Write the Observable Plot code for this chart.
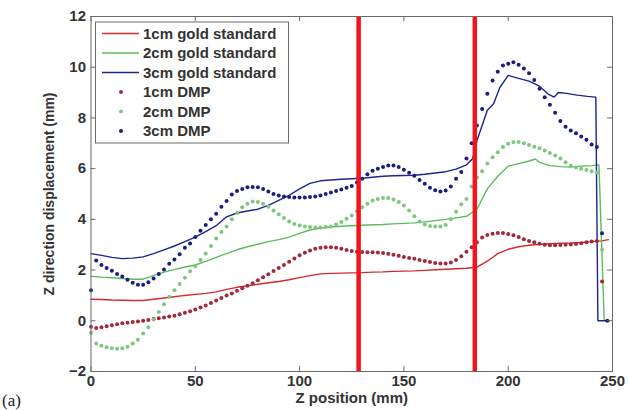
<!DOCTYPE html>
<html><head><meta charset="utf-8">
<script src="https://cdn.jsdelivr.net/npm/d3@7"></script>
<script src="https://cdn.jsdelivr.net/npm/@observablehq/plot@0.6"></script>
<style>html,body{margin:0;padding:0;background:#fff;}</style>
</head><body><div id="chart"></div>
<script>
// ---- data ----
const xTicks = [0, 50, 100, 150, 200, 250];
const yTicks = [-2, 0, 2, 4, 6, 8, 10, 12];
const seriesNames = ["1cm gold standard", "2cm gold standard", "3cm gold standard", "1cm DMP", "2cm DMP", "3cm DMP"];
const markerLines = [128.3, 184];

const gold1X = [0,5,10,15,20,25,30,35,40,45,50,55,60,65,70,75,80,85,90,95,100,105,110,115,120,125,130,135,140,145,150,155,160,165,170,175,180,185,190,195,200,205,210,215,220,225,230,235,240,245,248];
const gold1 = [0.85,0.84,0.82,0.81,0.8,0.8,0.85,0.9,0.95,1.0,1.04,1.08,1.14,1.24,1.32,1.38,1.44,1.5,1.55,1.62,1.7,1.78,1.85,1.87,1.88,1.89,1.9,1.92,1.93,1.95,1.96,1.97,1.99,2.01,2.03,2.05,2.07,2.12,2.35,2.65,2.82,2.92,2.98,3.02,3.04,3.06,3.07,3.09,3.12,3.15,3.2];

const gold2X = [0,5,10,15,20,25,30,35,40,45,50,55,60,65,70,75,80,85,90,95,100,105,110,115,120,125,130,135,140,145,150,155,160,165,170,175,180,185,190,195,200,205,210,213,215,220,225,230,235,240,243.5,246];
const gold2 = [1.75,1.72,1.7,1.67,1.64,1.64,1.78,1.92,2.02,2.12,2.2,2.34,2.5,2.65,2.8,2.92,3.02,3.12,3.2,3.3,3.45,3.58,3.66,3.7,3.73,3.75,3.77,3.79,3.8,3.82,3.84,3.86,3.9,3.95,4.0,4.06,4.12,4.4,5.2,5.7,6.1,6.2,6.3,6.38,6.25,6.12,6.08,6.06,6.1,6.12,6.15,0.05];

const gold3X = [0,5,10,15,20,25,30,35,40,45,50,55,60,65,70,75,80,85,90,95,100,105,110,115,120,125,130,135,140,145,150,155,160,165,170,175,180,183,185,190,193,196,200,205,210,215,219,222,224,228,233,238,242,243,248.5];
const gold3 = [2.65,2.58,2.5,2.45,2.47,2.52,2.65,2.8,2.95,3.12,3.3,3.52,3.75,4.1,4.25,4.33,4.4,4.55,4.75,4.95,5.2,5.42,5.52,5.55,5.58,5.6,5.62,5.66,5.7,5.72,5.73,5.74,5.78,5.83,5.88,5.98,6.15,6.4,7.1,8.3,8.56,9.2,9.68,9.56,9.45,9.25,8.95,8.82,9.0,8.97,8.9,8.85,8.82,0,0];

const dmpX = [0,2.5,5,7.5,10,12.5,15,17.5,20,22.5,25,27.5,30,32.5,35,37.5,40,42.5,45,47.5,50,52.5,55,57.5,60,62.5,65,67.5,70,72.5,75,77.5,80,82.5,85,87.5,90,92.5,95,97.5,100,102.5,105,107.5,110,112.5,115,117.5,120,122.5,125,127.5,130,132.5,135,137.5,140,142.5,145,147.5,150,152.5,155,157.5,160,162.5,165,167.5,170,172.5,175,177.5,180,182.5,185,187.5,190,192.5,195,197.5,200,202.5,205,207.5,210,212.5,215,217.5,220,222.5,225,227.5,230,232.5,235,237.5,240,242.5,245,247.5];
const dmp1 = [-0.24,-0.28,-0.25,-0.22,-0.18,-0.14,-0.1,-0.08,-0.05,-0.03,
  0.0,0.03,0.07,0.1,0.13,0.17,0.2,0.26,0.32,0.38,
  0.45,0.52,0.6,0.7,0.8,0.9,1.0,1.08,1.18,1.28,
  1.38,1.48,1.6,1.72,1.84,1.96,2.08,2.2,2.33,2.46,
  2.58,2.68,2.77,2.84,2.88,2.9,2.9,2.88,2.84,2.79,
  2.75,2.72,2.71,2.7,2.7,2.69,2.67,2.64,2.6,2.56,
  2.52,2.48,2.45,2.4,2.36,2.32,2.28,2.26,2.26,2.3,
  2.4,2.55,2.72,2.9,3.1,3.28,3.38,3.43,3.46,3.46,
  3.42,3.37,3.3,3.22,3.15,3.1,3.04,3.0,2.98,2.98,
  2.99,3.0,3.01,3.03,3.06,3.1,3.13,3.15,1.55,null];
const dmp2 = [-0.47,-0.9,-0.98,-1.04,-1.08,-1.1,-1.08,-1.02,-0.9,-0.75,
  -0.5,-0.25,0.05,0.35,0.65,0.95,1.2,1.45,1.7,1.95,
  2.15,2.4,2.65,2.95,3.25,3.5,3.72,4.0,4.25,4.48,
  4.62,4.7,4.68,4.62,4.5,4.35,4.2,4.05,3.92,3.82,
  3.76,3.72,3.7,3.68,3.68,3.7,3.72,3.8,3.9,4.02,
  4.15,4.32,4.48,4.62,4.74,4.8,4.84,4.84,4.78,4.68,
  4.55,4.35,4.12,3.92,3.8,3.74,3.72,3.72,3.78,4.0,
  4.3,4.6,4.8,5.3,5.65,5.9,6.2,6.45,6.65,6.85,
  6.98,7.04,7.05,7.0,6.93,6.86,6.8,6.72,6.62,6.52,
  6.4,6.25,6.12,6.05,6.0,5.95,5.9,5.85,2.8,null];
const dmp3 = [1.2,2.38,2.2,2.08,1.97,1.85,1.75,1.62,1.5,1.42,
  1.42,1.52,1.67,1.85,2.02,2.25,2.42,2.62,2.88,3.05,
  3.3,3.55,3.78,4.0,4.22,4.5,4.72,4.98,5.12,5.2,
  5.27,5.28,5.27,5.2,5.1,5.0,4.94,4.9,4.88,4.86,
  4.86,4.86,4.88,4.9,4.94,5.0,5.06,5.12,5.18,5.25,
  5.32,5.45,5.6,5.78,5.92,6.0,6.06,6.12,6.12,6.06,
  5.96,5.84,5.72,5.55,5.4,5.25,5.15,5.1,5.14,5.3,
  5.6,5.87,6.4,7.0,7.7,8.35,8.95,9.48,9.82,10.07,
  10.14,10.2,10.1,9.95,9.76,9.5,9.15,8.82,8.52,8.2,
  7.88,7.65,7.5,7.4,7.27,7.14,6.95,6.85,3.45,0];

const colors = ["#d42a2e", "#5cbb5c", "#1c2494", "#a3283a", "#7fc67f", "#1a1f7e"];

// ---- chart ----
const W = 629, H = 410, mL = 90.5, mR = 17, mT = 16, mB = 39;
const innerW = W - mL - mR, innerH = H - mT - mB;
const pts = (xs, ys) => xs.map((x, i) => ({x, y: ys[i]}));
const axisColor = "#6a6a6a";

const chart = Plot.plot({
  width: W, height: H,
  marginLeft: mL, marginRight: mR, marginTop: mT, marginBottom: mB,
  style: {fontFamily: "'Liberation Sans', Arial, sans-serif", fontSize: "15px", fontWeight: "bold", color: "#333", background: "#fff"},
  x: {domain: [0, 250]},
  y: {domain: [-2, 12]},
  marks: [
    Plot.line(pts(gold1X, gold1), {x: "x", y: "y", stroke: colors[0], strokeWidth: 1.4}),
    Plot.line(pts(gold2X, gold2), {x: "x", y: "y", stroke: colors[1], strokeWidth: 1.4}),
    Plot.line(pts(gold3X, gold3), {x: "x", y: "y", stroke: colors[2], strokeWidth: 1.4}),
    Plot.dot(pts(dmpX, dmp1), {x: "x", y: "y", r: 2, fill: colors[3]}),
    Plot.dot(pts(dmpX, dmp2), {x: "x", y: "y", r: 2, fill: colors[4]}),
    Plot.dot(pts(dmpX, dmp3), {x: "x", y: "y", r: 2, fill: colors[5]}),
    Plot.ruleX(markerLines, {stroke: "#f5131a", strokeWidth: 4.5}),
    Plot.frame({stroke: axisColor}),
    Plot.tickX(xTicks, {x: d => d, insetTop: innerH - 5, stroke: axisColor}),
    Plot.tickX(xTicks, {x: d => d, insetBottom: innerH - 5, stroke: axisColor}),
    Plot.tickY(yTicks, {y: d => d, insetRight: innerW - 5, stroke: axisColor}),
    Plot.tickY(yTicks, {y: d => d, insetLeft: innerW - 5, stroke: axisColor}),
    Plot.axisX({ticks: xTicks, tickSize: 0, tickPadding: 4, label: null}),
    Plot.axisY({ticks: yTicks, tickSize: 0, tickPadding: 5, label: null}),
    Plot.text(["Z position (mm)"], {frameAnchor: "bottom", dy: 31, text: d => d, fontSize: 15}),
    Plot.text(["Z direction displacement (mm)"], {frameAnchor: "left", dx: -41, rotate: -90, textAnchor: "middle", text: d => d, fontSize: 14})
  ]
});
document.getElementById("chart").appendChild(chart);

// legend (MATLAB-style box)
const svg = d3.select(chart);
const lg = svg.append("g").attr("font-family", "'Liberation Sans', Arial, sans-serif").attr("font-size", 15).attr("font-weight", "bold").attr("fill", "#333").attr("text-anchor", "start");
lg.append("rect").attr("x", 95.5).attr("y", 22).attr("width", 193).attr("height", 121).attr("fill", "#fff").attr("stroke", axisColor);
seriesNames.forEach((name, i) => {
  const cy = 33.5 + i * 19.5;
  if (i < 3) {
    lg.append("line").attr("x1", 102).attr("x2", 139).attr("y1", cy).attr("y2", cy).attr("stroke", colors[i]).attr("stroke-width", 1.4);
  } else {
    lg.append("circle").attr("cx", 121).attr("cy", cy).attr("r", 2).attr("fill", colors[i]);
  }
  lg.append("text").attr("x", 143).attr("y", cy).attr("dy", "0.36em").text(name);
});
svg.append("text").attr("x", 2).attr("y", 406).attr("text-anchor", "start").attr("font-family", "'Liberation Serif', 'DejaVu Serif', serif").attr("font-size", 17).attr("font-weight", "normal").attr("fill", "#222").text("(a)");
</script>
</body></html>
